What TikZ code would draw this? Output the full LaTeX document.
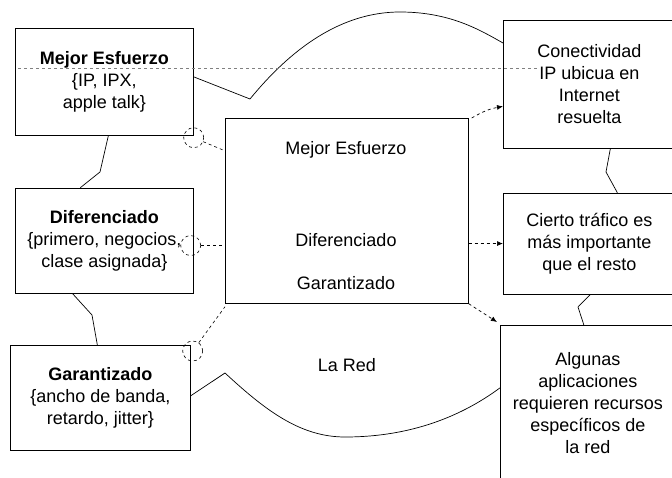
\documentclass[tikz,border=0pt]{standalone}
\usepackage{fontspec}
\setmainfont{Liberation Sans}
\usetikzlibrary{positioning,arrows.meta}

\begin{document}
\begin{tikzpicture}[x=1pt, y=-1pt,
  caja/.style={rectangle, draw, line width=0.7pt, align=center, inner sep=0pt, font=\fontsize{18}{22}\selectfont},
  texto/.style={align=center, font=\fontsize{18}{22}\selectfont},
  enlace/.style={line width=0.7pt},
  flecha/.style={dashed, line width=0.7pt, -{Latex[length=6pt,width=5pt]}},
  trazo/.style={dashed, line width=0.6pt},
  anillo/.style={circle, draw, dashed, line width=0.6pt, minimum size=20pt, inner sep=0pt}]

\useasboundingbox (0,0) rectangle (672,478);

% SERVICIOS

\node [caja, minimum width=178pt, minimum height=107pt, anchor=north west] at (15,28) (esfuerzo)
{\raisebox{7pt}{\begin{tabular}{@{}c@{}}\textbf{Mejor Esfuerzo}\\\{IP, IPX,\\apple talk\}\end{tabular}}};

\node [caja, minimum width=178pt, minimum height=105pt, below=52pt of esfuerzo.south west, anchor=north west] (diferenciado)
{\textbf{Diferenciado}\\\{primero, negocios,\\clase asignada\}};

\node [caja, minimum width=180pt, minimum height=105pt, anchor=north west] at (10,345) (garantizado)
{\textbf{Garantizado}\\\{ancho de banda,\\retardo, jitter\}};

% LA RED

\node [caja, minimum width=243pt, minimum height=185pt, anchor=north west] at (225,118) (red) {};
\node [texto] at (346,150) (red-esfuerzo) {Mejor Esfuerzo};
\node [texto] at (346,240) (red-diferenciado) {Diferenciado};
\node [texto] at (346,283) (red-garantizado) {Garantizado};
\node [texto] at (347,365) (red-titulo) {La Red};

% RESULTADOS

\node [caja, minimum width=172pt, minimum height=128pt, anchor=north west] at (503,20) (conectividad)
{Conectividad\\IP ubicua en\\Internet\\resuelta};

\node [caja, minimum width=172pt, minimum height=101pt, below=44pt of conectividad.south west, anchor=north west] (trafico)
{Cierto tráfico es\\más importante\\que el resto};

\node [caja, minimum width=175pt, minimum height=155pt, anchor=north west] at (500,325) (recursos)
{Algunas\\aplicaciones\\requieren recursos\\específicos de\\la red};

% NUBE

\coordinate (vtop) at (250,99);
\coordinate (vbot) at (225,373);

\draw [enlace] ([yshift=5pt]esfuerzo.east) -- (vtop)
  .. controls (290,50) and (340,12) .. (400,12)
  .. controls (450,12) and (480,30) .. ([yshift=-23pt]conectividad.north west);

\draw [enlace] ([yshift=2pt]garantizado.east) -- (vbot)
  .. controls (265,410) and (300,437) .. (345,437)
  .. controls (420,437) and (470,410) .. ([yshift=15pt]recursos.west);

\draw [trazo, gray, line width=0.4pt] (18,68) -- (538,68);

% ENLACES

\draw [enlace] ([xshift=4pt]esfuerzo.south) -- (100,172) -- ([xshift=-24pt]diferenciado.north);
\draw [enlace] ([xshift=-32pt]diferenciado.south) -- (92,315) -- ([xshift=-3pt]garantizado.north);
\draw [enlace] ([xshift=21pt]conectividad.south) -- (606,172) -- ([xshift=28pt]trafico.north);
\draw [enlace] ([xshift=1pt]trafico.south) -- (578,307) -- ([xshift=-4pt]recursos.north);

\node [anillo] at ([yshift=-2pt]esfuerzo.south east) (anillo-esfuerzo) {};
\node [anillo] at ([xshift=-3pt, yshift=-5pt]diferenciado.east) (anillo-diferenciado) {};
\node [anillo] at ([xshift=2pt, yshift=-6pt]garantizado.north east) (anillo-garantizado) {};

\draw [trazo] (anillo-esfuerzo) -- ([yshift=60pt]red.west);
\draw [trazo] (anillo-diferenciado) -- (red.west |- anillo-diferenciado);
\draw [trazo] (anillo-garantizado) -- ([yshift=-3pt]red.south west);

\draw [flecha] ([xshift=3pt]red.north east) to[bend left=10] ([yshift=-22pt]conectividad.west);
\draw [flecha] (red.east |- trafico.west) -- (trafico.west);
\draw [flecha] (red.south east) -- ([xshift=-3pt, yshift=3pt]recursos.north west);

\end{tikzpicture}
\end{document}
